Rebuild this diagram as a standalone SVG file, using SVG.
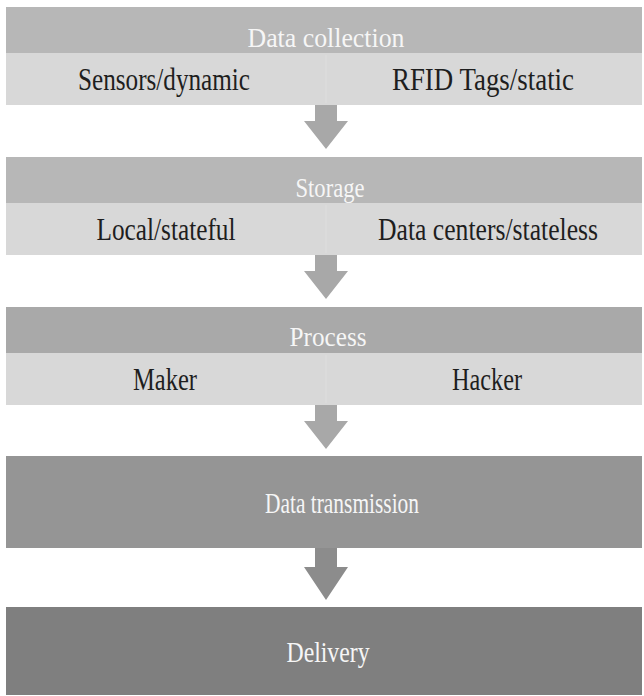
<svg xmlns="http://www.w3.org/2000/svg" width="644" height="696" viewBox="0 0 644 696">
<defs>
<style>
.hd{fill:#b7b7b7}
.sub{fill:#d8d8d8}
.div{stroke:#dedede;stroke-width:1}
.ht{font-family:"Liberation Serif",serif;font-size:28px;fill:#f6f6f6;text-anchor:middle}
.big{font-size:30px}
.st{font-family:"Liberation Serif",serif;font-size:31px;fill:#1e1e1e;text-anchor:middle}
.arr{fill:#a8a8a8}
</style>
</defs>
<rect width="644" height="696" fill="#ffffff"/>
<g id="data-collection">
<rect class="hd" x="6" y="7" width="636" height="46"/>
<rect class="sub" x="6" y="53" width="636" height="52"/>
<line class="div" x1="326" y1="55" x2="326" y2="103"/>
<text class="ht" x="326" y="47" textLength="157" lengthAdjust="spacingAndGlyphs">Data collection</text>
<text class="st" x="164" y="90" textLength="172" lengthAdjust="spacingAndGlyphs">Sensors/dynamic</text>
<text class="st" x="483" y="90" textLength="182" lengthAdjust="spacingAndGlyphs">RFID Tags/static</text>
</g>
<g id="storage">
<rect class="hd" x="6" y="157" width="636" height="46"/>
<rect class="sub" x="6" y="203" width="636" height="52"/>
<line class="div" x1="326" y1="205" x2="326" y2="253"/>
<text class="ht" x="330" y="197" textLength="69" lengthAdjust="spacingAndGlyphs">Storage</text>
<text class="st" x="166" y="240" textLength="139" lengthAdjust="spacingAndGlyphs">Local/stateful</text>
<text class="st" x="488" y="240" textLength="220" lengthAdjust="spacingAndGlyphs">Data centers/stateless</text>
</g>
<g id="process">
<rect x="6" y="307" width="636" height="46" fill="#a9a9a9"/>
<rect class="sub" x="6" y="353" width="636" height="52"/>
<line class="div" x1="326" y1="355" x2="326" y2="403"/>
<text class="ht" x="328" y="346" textLength="77" lengthAdjust="spacingAndGlyphs">Process</text>
<text class="st" x="165" y="390" textLength="64" lengthAdjust="spacingAndGlyphs">Maker</text>
<text class="st" x="487" y="390" textLength="70" lengthAdjust="spacingAndGlyphs">Hacker</text>
</g>
<g id="data-transmission">
<rect x="6" y="456" width="636" height="92" fill="#959595"/>
<text class="ht big" x="342" y="513" textLength="154" lengthAdjust="spacingAndGlyphs">Data transmission</text>
</g>
<g id="delivery">
<rect x="6" y="607" width="636" height="88" fill="#7f7f7f"/>
<text class="ht big" x="328" y="662" textLength="83" lengthAdjust="spacingAndGlyphs">Delivery</text>
</g>
<g id="connectors">
<polygon class="arr" points="315,105 337,105 337,121 348,121 326,149 304,121 315,121"/>
<polygon class="arr" points="315,255 337,255 337,271 348,271 326,299 304,271 315,271"/>
<polygon class="arr" points="315,405 337,405 337,421 348,421 326,449 304,421 315,421"/>
<polygon points="315,548 337,548 337,567 348,567 326,600 304,567 315,567" fill="#8c8c8c"/>
</g>
</svg>
